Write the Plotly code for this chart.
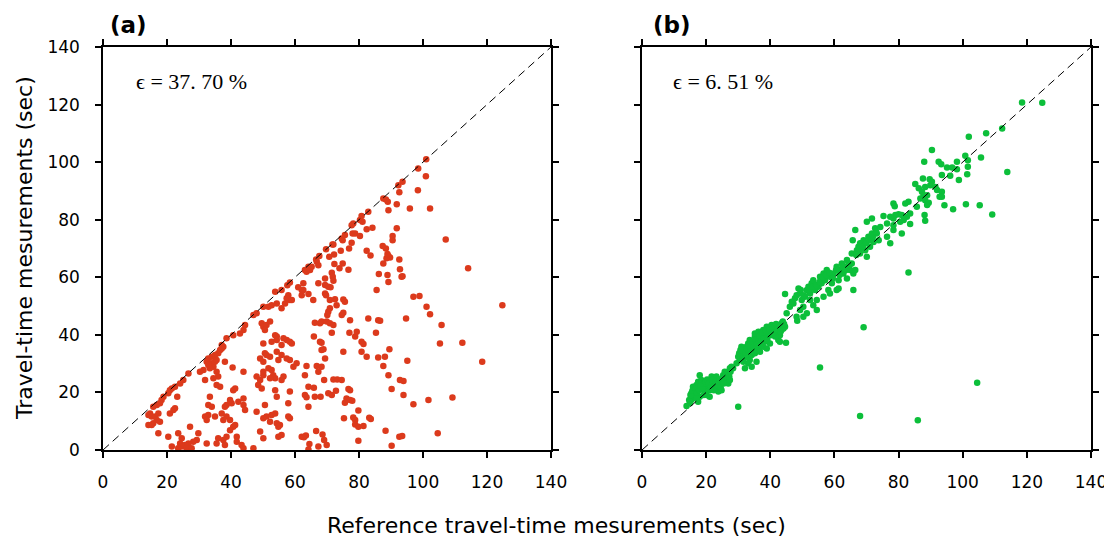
import plotly.graph_objects as go

# ---------------- data ----------------
# Panel (a): reference vs. measured travel times (sec)
ref_a = [53.8, 57.9, 58.4, 56.9, 57.4, 52.7, 54.3, 55.8, 51.7, 50.1, 48.0, 47.0, 49.6, 50.1, 51.1, 52.2, 50.6, 44.4, 43.9, 42.8,
         40.7, 38.6, 37.1, 37.6, 36.6, 36.0, 35.0, 34.0, 32.9, 32.4, 34.0, 34.5, 33.4, 31.4, 30.3, 32.9, 35.0, 35.5, 37.1, 38.1,
         40.5, 43.9, 35.5, 36.0, 34.5, 31.9, 35.5, 36.6, 26.7, 25.1, 24.1, 22.5, 21.5, 20.9, 20.4, 23.2, 18.9, 18.3, 17.8, 16.8,
         15.7, 14.7, 14.2, 15.2, 16.3, 17.3, 16.8, 17.8, 15.7, 15.2, 14.2, 17.3, 20.9, 22.0, 22.5, 20.4, 23.5, 24.6, 24.1, 27.2,
         29.8, 29.3, 28.2, 26.7, 25.6, 24.6, 23.5, 21.5, 26.1, 27.7, 32.4, 33.4, 32.9, 34.0, 32.9, 31.9, 32.4, 35.0, 37.1, 38.1,
         38.6, 40.2, 40.7, 41.3, 39.7, 42.3, 43.9, 43.9, 44.4, 38.6, 37.6, 39.7, 40.7, 39.7, 41.3, 41.8, 38.6, 37.6, 36.0, 35.5,
         38.1, 41.8, 43.3, 43.9, 48.0, 50.1, 51.1, 52.7, 53.8, 50.6, 52.2, 54.3, 54.8, 55.3, 55.8, 54.8, 58.4, 57.9, 49.1, 50.1,
         47.0, 48.0, 49.1, 48.5, 49.6, 50.1, 50.1, 51.7, 52.7, 53.2, 53.8, 52.2, 50.1, 49.1, 50.6, 51.1, 52.2, 54.3, 54.8, 55.8,
         57.4, 58.4, 60.5, 50.1, 52.7, 53.8, 54.3, 54.3, 55.8, 57.4, 58.4, 59.0, 56.4, 53.8, 54.3, 55.8, 56.4, 58.4, 59.5, 57.9,
         59.0,
         62.1, 64.2, 65.7, 69.4, 69.7, 70.9, 72.5, 75.1, 75.6, 73.0, 70.9, 70.4, 70.1, 74.6, 75.1, 77.2, 66.2, 67.8, 68.3, 69.9,
         70.9, 72.0, 71.5, 65.9, 67.8, 68.3, 68.3, 68.9, 75.1, 77.0, 78.8, 79.3, 80.8, 81.4, 80.8, 82.4, 82.9, 86.0, 86.6, 85.3,
         89.5, 88.1, 86.0, 87.6, 89.2, 92.8, 93.9, 90.2, 93.9, 97.0, 101.7, 109.2, 95.1, 94.7, 97.0, 98.9, 101.1, 102.2, 105.8, 105.3,
         112.3, 118.5, 124.8, 63.6, 66.8, 68.3, 67.3, 63.1, 69.1, 69.4, 72.0, 73.2, 74.6, 76.7, 77.2, 72.8, 70.4, 71.5, 64.2, 65.9,
         63.1, 63.6, 66.2, 68.0, 64.2, 76.1, 77.2, 77.9, 75.6, 75.3, 78.2, 78.8, 78.8, 79.8, 81.4, 79.8, 83.2, 83.7, 88.3, 92.6,
         93.5, 104.6, 90.2, 79.8, 62.1, 62.8, 63.4, 66.6, 68.6, 69.1, 69.9, 67.3, 64.5, 64.2,
         101.0, 98.5, 100.9, 93.6, 92.3, 92.6, 98.4, 87.6, 88.4, 89.0, 91.8, 89.2, 95.9, 102.2, 82.9, 80.8, 81.1, 80.3, 78.2, 77.7,
         82.4, 84.2, 91.8, 78.0, 78.8, 80.3, 75.6, 74.6, 74.9, 90.5, 90.5, 107.1, 72.0, 71.7, 77.7, 76.9, 74.3, 72.2, 70.7, 69.7,
         67.6, 66.8, 67.3, 66.6, 64.2, 63.1, 63.6, 64.7, 65.2, 87.4, 88.4, 82.4, 83.6, 89.2, 89.7, 88.6, 88.9, 92.6, 87.6, 74.9,
         72.3, 73.9, 76.7, 92.8, 71.5, 71.8, 72.0, 69.4, 67.3, 69.4, 70.4, 71.1, 62.1, 62.6, 86.2, 88.9, 93.6, 93.3, 89.2, 114.1,
         85.5, 58.4, 57.6, 61.0, 62.6, 55.8]
meas_a = [55.0, 53.8, 52.1, 50.9, 52.7, 50.3, 50.9, 49.2, 49.8, 49.8, 47.5, 46.9, 44.0, 42.8, 43.4, 44.6, 41.7, 43.4, 41.7, 40.5,
          39.9, 38.8, 36.5, 35.9, 34.7, 33.6, 33.0, 32.4, 31.8, 30.7, 30.1, 28.9, 28.4, 27.8, 27.2, 29.5, 30.7, 31.3, 35.3, 30.7,
          28.7, 27.2, 27.2, 25.5, 24.9, 24.3, 22.6, 22.0, 26.6, 24.3, 23.1, 22.0, 21.4, 20.8, 19.7, 18.5, 18.5, 17.4, 16.2, 15.6,
          15.0, 12.7, 12.2, 11.6, 11.6, 12.7, 10.4, 9.8, 9.3, 8.7, 8.7, 5.8, 12.7, 13.9, 14.5, 4.6, 5.8, 4.1, 2.3, 8.1,
          5.8, 3.5, 2.9, 2.3, 1.7, 1.2, 0.6, 1.2, 0.6, 0.6, 2.3, 18.5, 15.6, 15.0, 12.2, 11.6, 10.4, 11.6, 12.7, 15.0,
          15.6, 16.2, 20.8, 21.4, 17.4, 16.8, 17.9, 15.6, 13.9, 11.6, 10.4, 10.4, 8.1, 6.9, 8.7, 4.6, 4.6, 3.5, 4.1, 2.3,
          1.7, 2.9, 1.7, 0.6, 13.3, 11.0, 11.6, 12.2, 12.7, 15.6, 9.8, 9.3, 8.1, 8.7, 5.2, 4.6, 11.0, 11.6, 6.4, 4.1,
          0.6, 25.5, 24.3, 22.6, 21.4, 26.0, 27.2, 28.4, 27.8, 26.0, 24.9, 24.9, 30.7, 31.8, 33.6, 33.0, 32.4, 34.1, 31.3, 33.0,
          31.8, 31.3, 30.1, 37.0, 37.6, 39.9, 39.4, 38.2, 36.5, 38.2, 37.6, 37.0, 38.8, 20.8, 18.5, 24.3, 25.5, 20.3, 28.9, 16.2,
          52.1,
          53.8, 54.2, 52.1, 54.4, 53.8, 52.1, 52.4, 52.3, 51.5, 50.3, 49.2, 48.0, 46.9, 46.9, 47.7, 45.1, 44.2, 44.0, 44.6, 44.6,
          44.0, 43.4, 40.7, 39.4, 37.6, 37.3, 34.7, 35.0, 34.1, 40.7, 39.4, 41.1, 37.6, 36.8, 34.1, 32.4, 45.7, 45.1, 44.9, 40.7,
          35.0, 32.4, 32.1, 29.2, 26.0, 24.3, 24.0, 21.2, 19.1, 15.9, 17.4, 18.2, 31.0, 45.7, 53.2, 53.5, 49.8, 47.2, 43.4, 37.0,
          37.3, 30.7, 50.3, 29.2, 29.2, 28.9, 27.2, 26.0, 24.3, 31.8, 24.5, 24.5, 24.3, 21.2, 20.8, 20.6, 19.7, 19.1, 22.0, 21.6,
          19.1, 18.3, 18.5, 18.5, 15.0, 17.9, 17.4, 17.1, 16.4, 11.0, 11.3, 10.4, 8.9, 8.1, 8.3, 13.7, 11.2, 10.8, 6.7, 4.6,
          4.9, 5.8, 1.5, 3.2, 4.6, 4.4, 5.0, 6.6, 5.4, 3.5, 1.7, 1.2, 2.1, 0.2,
          101.0, 97.8, 95.1, 93.2, 92.0, 89.5, 90.2, 87.4, 87.0, 86.2, 85.4, 83.3, 83.9, 83.9, 82.8, 81.3, 79.3, 79.9, 78.7, 78.1,
          76.7, 77.2, 77.0, 75.2, 75.2, 74.3, 74.7, 73.5, 72.9, 74.3, 72.9, 73.1, 71.4, 71.4, 72.0, 70.0, 69.2, 67.9, 67.1, 69.7,
          67.4, 65.4, 64.2, 66.2, 63.7, 62.5, 61.9, 62.5, 63.7, 70.9, 70.0, 69.2, 67.6, 67.4, 66.9, 66.6, 68.1, 66.2, 64.8, 64.8,
          64.6, 63.1, 62.6, 62.8, 61.6, 60.2, 58.8, 59.6, 57.9, 57.3, 56.7, 56.5, 55.6, 55.6, 61.1, 60.8, 60.4, 60.2, 58.4, 63.1,
          55.6, 58.2, 57.2, 56.5, 57.9, 55.6]

# Panel (b): reference vs. corrected travel times (sec)
ref_b = [13.9, 14.9, 15.4, 15.9, 15.4, 16.5, 15.9, 17.0, 17.5, 18.0, 18.5, 19.1, 17.5, 18.0, 19.6, 20.1, 20.6, 21.1, 21.1, 21.7,
         21.7, 22.7, 23.2, 23.2, 23.8, 24.3, 24.8, 24.8, 25.3, 25.8, 26.4, 26.9, 27.4, 26.9, 27.9, 27.4, 16.5, 17.0, 18.5, 19.6,
         22.2, 20.1, 30.0, 55.5,
         29.5, 30.5, 30.0, 31.6, 31.0, 32.1, 32.6, 33.1, 33.6, 34.2, 34.7, 35.2, 35.7, 36.3, 36.8, 37.3, 37.8, 38.3, 38.9, 39.4,
         39.9, 40.4, 40.9, 41.5, 42.0, 42.5, 43.0, 43.5, 44.1, 44.6, 44.9, 32.6, 33.6, 34.2, 33.1, 32.1, 31.6, 35.2, 35.7, 36.8,
         37.8, 38.9, 35.2, 36.3, 37.3, 38.9, 41.5, 43.0, 43.5, 35.7, 34.2, 48.4,
         44.6, 45.1, 46.1, 47.2, 47.7, 48.8, 49.3, 49.8, 50.3, 50.8, 51.4, 51.9, 52.4, 52.9, 53.4, 54.0, 54.5, 55.0, 55.5, 56.0,
         56.6, 57.1, 57.6, 58.1, 58.6, 59.2, 59.7, 60.7, 61.3, 61.8, 62.3, 62.8, 63.3, 63.9, 64.4, 64.9, 65.4, 65.9, 66.5, 67.0,
         67.5, 68.0, 68.5, 69.1, 69.6, 70.1, 70.6, 71.1, 71.7, 72.2, 72.7, 73.2, 73.8, 76.4, 77.4, 78.4, 81.0, 66.5, 65.7, 70.1,
         71.7, 65.9, 83.1, 68.0, 65.4, 61.3, 53.4, 51.4, 49.3, 48.2, 50.3, 54.5, 52.4, 56.6, 58.6, 63.9, 60.7,
         118.5, 124.8, 112.3, 107.3, 101.9, 90.4, 100.8, 105.7, 101.6, 98.2, 88.0, 92.5, 93.3, 95.1, 96.7, 98.2, 101.6, 101.4, 98.8, 96.1,
         93.5, 87.6, 89.7, 90.4, 113.9, 85.2, 86.3, 88.3, 89.9, 91.5, 92.0, 93.5, 92.8, 93.5, 87.3, 87.8, 88.9, 86.8, 88.3, 89.4,
         88.9, 85.7, 83.1, 82.1, 78.4, 78.8, 94.3, 97.0, 101.0, 105.3, 109.2, 88.1, 88.3, 83.6, 82.6, 81.0, 80.0, 79.0, 78.4, 77.4,
         75.3, 76.4, 78.4, 80.5, 81.6, 83.6, 74.3,
         69.1, 104.5, 68.0, 86.0,
         14.7, 15.1, 15.7, 16.8, 17.2, 17.8, 18.2, 18.9, 19.3, 19.9, 20.3, 20.9, 21.4, 22.0, 22.4, 23.0, 23.4, 24.1, 24.5, 25.1,
         25.5, 26.1, 26.6, 27.2, 27.6, 28.4,
         30.3, 30.7, 31.4, 32.4, 32.8, 33.4, 33.9, 34.5, 34.9, 35.5, 35.9, 36.6, 37.0, 37.6, 38.0, 38.6, 39.1, 39.7, 40.1, 40.7,
         41.1, 41.8, 42.2, 42.8, 43.2, 43.9, 44.3,
         46.7, 48.2, 49.5, 50.5, 52.2, 53.2, 54.3, 55.3, 56.4, 57.4, 58.4, 59.5, 60.5, 61.6, 62.6, 63.6, 64.7, 66.8, 67.8, 68.9,
         69.9, 70.9, 72.0, 73.0]
meas_b = [15.3, 16.2, 17.4, 18.5, 19.7, 20.8, 22.0, 22.6, 23.7, 26.0, 24.3, 22.0, 16.8, 18.5, 20.3, 21.4, 22.6, 20.8, 18.5, 23.7,
          25.5, 23.1, 25.5, 21.4, 20.3, 22.6, 23.7, 20.8, 26.0, 27.2, 24.9, 23.1, 24.3, 27.2, 28.9, 28.4, 19.1, 17.9, 23.1, 23.1,
          22.0, 19.1, 15.0, 28.7,
          30.1, 31.3, 32.4, 33.6, 35.9, 34.7, 35.9, 37.0, 38.2, 36.5, 34.7, 39.4, 37.6, 35.9, 38.8, 39.9, 41.7, 37.6, 39.4, 40.5,
          37.0, 43.4, 41.7, 42.8, 40.5, 38.2, 39.9, 41.7, 42.2, 42.8, 37.3, 32.4, 31.3, 33.0, 30.1, 28.4, 30.7, 33.6, 34.7, 34.1,
          35.9, 35.3, 40.5, 41.1, 37.0, 42.8, 39.4, 37.6, 44.0, 30.7, 28.9, 44.9,
          54.2, 47.5, 49.8, 50.9, 52.7, 56.1, 54.4, 52.1, 49.8, 53.2, 55.6, 56.7, 54.4, 57.9, 59.0, 55.6, 52.1, 56.7, 60.2, 57.9,
          61.3, 59.0, 62.5, 55.6, 60.2, 57.9, 61.3, 55.6, 59.0, 62.5, 64.8, 61.3, 63.7, 66.0, 64.8, 62.5, 64.8, 61.3, 62.5, 69.4,
          70.6, 68.3, 71.8, 72.9, 69.4, 67.1, 74.1, 70.6, 75.2, 72.3, 77.0, 75.2, 72.9, 74.1, 71.8, 76.4, 75.2, 76.4, 72.9, 79.3,
          80.4, 55.6, 61.7, 71.8, 68.3, 56.1, 50.3, 47.5, 48.6, 46.3, 46.3, 48.6, 52.1, 53.2, 54.4, 59.6, 63.7,
          120.7, 120.6, 111.7, 110.0, 108.8, 104.2, 102.2, 101.6, 100.7, 100.1, 100.1, 100.1, 99.3, 98.1, 98.1, 97.5, 98.4, 95.8, 93.8, 95.3,
          95.5, 94.3, 94.1, 93.2, 96.6, 92.4, 90.9, 91.4, 92.0, 91.4, 90.3, 89.7, 88.0, 88.0, 89.7, 88.5, 88.5, 87.4, 86.8, 85.9,
          85.1, 84.5, 86.2, 85.6, 85.6, 84.7, 85.0, 83.6, 85.4, 85.0, 81.8, 81.6, 79.6, 82.2, 81.0, 81.6, 81.9, 81.6, 80.4, 81.0,
          81.3, 78.7, 78.1, 79.3, 79.9, 78.5, 77.5,
          42.6, 23.4, 11.8, 10.3,
          17.4, 19.1, 20.6, 21.4, 19.9, 20.8, 22.2, 21.1, 19.1, 23.7, 24.5, 23.1, 21.8, 24.3, 20.8, 23.7, 22.6, 24.5, 21.8, 24.9,
          23.1, 25.7, 26.4, 25.5, 27.2, 28.4,
          33.6, 34.7, 31.8, 33.8, 35.0, 36.1, 34.1, 37.6, 35.9, 38.4, 36.8, 39.6, 37.6, 40.7, 38.8, 41.4, 38.2, 41.9, 39.9, 42.6,
          40.7, 43.8, 41.9, 43.1, 41.1, 44.6, 43.8,
          51.5, 53.8, 55.6, 53.8, 55.6, 56.7, 57.3, 58.4, 60.0, 60.8, 61.6, 59.6, 62.5, 60.8, 63.7, 62.5, 64.2, 67.7, 70.0, 70.6,
          71.8, 72.9, 74.1, 75.8]

axis_range = [0, 140]
tick_vals = [0, 20, 40, 60, 80, 100, 120, 140]
panel_labels = ["(a)", "(b)"]
error_texts = ["ϵ = 37. 70 %", "ϵ = 6. 51 %"]
x_title = "Reference travel-time mesurements (sec)"
y_title = "Travel-time mesurements (sec)"

RED = "#dc3a1c"
GREEN = "#0cbf3a"

# ---------------- figure ----------------
fig = go.Figure()

for xa, ya, xs, ys, col in [("x", "y", ref_a, meas_a, RED), ("x2", "y2", ref_b, meas_b, GREEN)]:
    fig.add_trace(go.Scatter(x=xs, y=ys, mode="markers", xaxis=xa, yaxis=ya,
                             marker=dict(color=col, size=6.5, line=dict(width=0)),
                             showlegend=False, hoverinfo="x+y"))
    fig.add_trace(go.Scatter(x=axis_range, y=axis_range, mode="lines", xaxis=xa, yaxis=ya,
                             line=dict(color="black", width=1, dash="8px,5px"),
                             showlegend=False, hoverinfo="skip"))

# The page body has an 8px margin, so the figure is drawn 8px in from the window edge.
OFF = 8
W, H = 1112 - OFF, 545 - OFF


def px(xp):
    return (xp - OFF) / W


def py(yp):
    return (H - (yp - OFF)) / H


dom_ax = [px(103), px(551)]
dom_bx = [px(642), px(1091)]
dom_y = [py(450), py(47)]

tick_font = dict(family="DejaVu Sans", size=17, color="black")
common = dict(range=axis_range, tickvals=tick_vals, showline=True, linecolor="black", linewidth=1.5,
              mirror="ticks", ticks="outside", ticklen=6, tickwidth=1.5, tickcolor="black",
              showgrid=False, zeroline=False, tickfont=tick_font, fixedrange=True, automargin=False)

fig.update_layout(
    template="none",
    width=W, height=H,
    margin=dict(l=0, r=0, t=0, b=0, pad=0),
    paper_bgcolor="white", plot_bgcolor="white",
    xaxis=dict(domain=dom_ax, anchor="y", ticklabelstandoff=10, **common),
    yaxis=dict(domain=dom_y, anchor="x", ticklabelstandoff=12, **common),
    xaxis2=dict(domain=dom_bx, anchor="y2", ticklabelstandoff=10, **common),
    yaxis2=dict(domain=dom_y, anchor="x2", showticklabels=False, **common),
)

annotations = [
    dict(text="<b>" + panel_labels[0] + "</b>", x=px(108), y=py(25), xanchor="left"),
    dict(text="<b>" + panel_labels[1] + "</b>", x=px(651), y=py(25), xanchor="left"),
    dict(text=error_texts[0], x=px(134), y=py(82), xanchor="left"),
    dict(text=error_texts[1], x=px(671), y=py(82), xanchor="left"),
    dict(text=x_title, x=px(556), y=py(525), xanchor="center"),
    dict(text=y_title, x=px(25), y=py(248), xanchor="center", textangle=-90),
]
fonts = [dict(family="DejaVu Sans", size=23, color="black")] * 2 + \
        [dict(family="Liberation Serif", size=22, color="black")] * 2 + \
        [dict(family="DejaVu Sans", size=22, color="black")] * 2
for a, f in zip(annotations, fonts):
    a.update(xref="paper", yref="paper", yanchor="middle", showarrow=False, font=f)
fig.update_layout(annotations=annotations)

fig.write_html("out.html")
